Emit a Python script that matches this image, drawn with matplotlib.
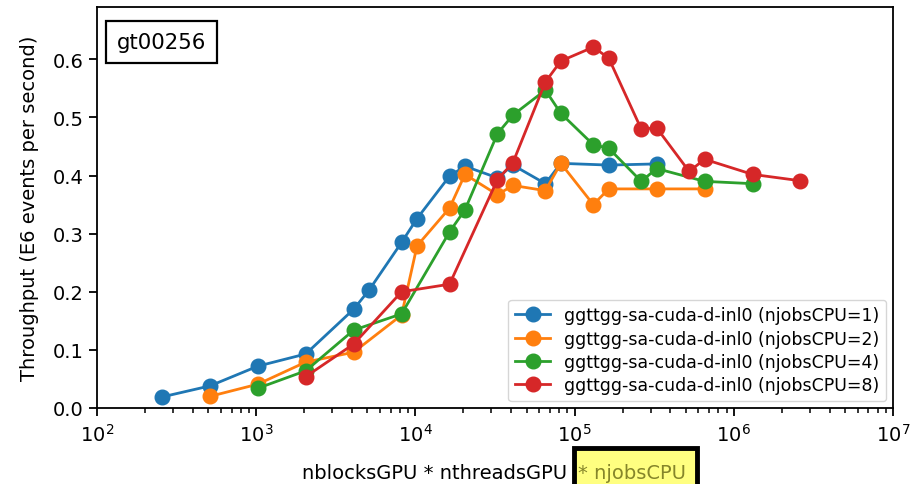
import matplotlib
matplotlib.use("Agg")
import matplotlib.pyplot as plt
from matplotlib.patches import Rectangle

x_j1 = [256, 512, 1024, 2048, 4096, 5120, 8192, 10240, 16384, 20480, 32768, 40960, 65536, 81920, 163840, 327680]
y_j1 = [0.019, 0.038, 0.072, 0.093, 0.170, 0.203, 0.285, 0.326, 0.399, 0.416, 0.396, 0.418, 0.386, 0.421, 0.418, 0.420]

x_j2 = [512, 1024, 2048, 4096, 8192, 10240, 16384, 20480, 32768, 40960, 65536, 81920, 131072, 163840, 327680, 655360]
y_j2 = [0.020, 0.041, 0.079, 0.096, 0.160, 0.279, 0.344, 0.402, 0.367, 0.383, 0.374, 0.421, 0.350, 0.377, 0.377, 0.377]

x_j4 = [1024, 2048, 4096, 8192, 16384, 20480, 32768, 40960, 65536, 81920, 131072, 163840, 262144, 327680, 655360, 1310720]
y_j4 = [0.034, 0.064, 0.134, 0.162, 0.303, 0.341, 0.472, 0.504, 0.547, 0.507, 0.453, 0.447, 0.390, 0.412, 0.390, 0.386]

x_j8 = [2048, 4096, 8192, 16384, 32768, 40960, 65536, 81920, 131072, 163840, 262144, 327680, 524288, 655360, 1310720, 2621440]
y_j8 = [0.054, 0.110, 0.200, 0.213, 0.393, 0.422, 0.561, 0.597, 0.621, 0.602, 0.480, 0.482, 0.407, 0.428, 0.402, 0.391]

labels = ["ggttgg-sa-cuda-d-inl0 (njobsCPU=1)",
          "ggttgg-sa-cuda-d-inl0 (njobsCPU=2)",
          "ggttgg-sa-cuda-d-inl0 (njobsCPU=4)",
          "ggttgg-sa-cuda-d-inl0 (njobsCPU=8)"]
colors = ["#1f77b4", "#ff7f0e", "#2ca02c", "#d62728"]

W, H = 910, 485
fig = plt.figure(figsize=(9.1, 4.85), dpi=100)
ax = fig.add_axes([97/W, 1-409/H, (893-97)/W, (409-8)/H])

for xs, ys, lab, c in zip([x_j1, x_j2, x_j4, x_j8], [y_j1, y_j2, y_j4, y_j8], labels, colors):
    ax.plot(xs, ys, marker='o', color=c, label=lab, linewidth=2.0, markersize=10.5)

ax.set_xscale('log')
ax.set_xlim(1e2, 1e7)
ax.set_ylim(0, 0.69)
ax.set_yticks([0.0, 0.1, 0.2, 0.3, 0.4, 0.5, 0.6])
ax.tick_params(axis='both', labelsize=14, length=6, width=1.3)
ax.tick_params(axis='x', which='minor', length=3.5, width=1.1)
ax.tick_params(axis='x', pad=5)
for s in ax.spines.values():
    s.set_linewidth(1.3)

ax.set_ylabel("Throughput (E6 events per second)", fontsize=14, labelpad=10)

leg = ax.legend(loc='lower right', fontsize=12.5, handlelength=2.0, borderpad=0.4,
                labelspacing=0.3, borderaxespad=0.4)

ax.text(20/796, 1-(33-8)/401, "gt00256", transform=ax.transAxes, fontsize=15.3, va='top', ha='left',
        bbox=dict(boxstyle='square,pad=0.5', facecolor='white', edgecolor='black', linewidth=1.6))

fig.text(573/W, 1-479/H, "nblocksGPU * nthreadsGPU ", ha='right', va='baseline', fontsize=14)
fig.patches.append(Rectangle((574/W, 1-495/H), (697-574)/W, (495-449)/H, transform=fig.transFigure,
                             facecolor='#ffff80', edgecolor='black', linewidth=3.5, zorder=1))
fig.text(578/W, 1-479/H, "* njobsCPU", ha='left', va='baseline', fontsize=14, color='#85852a', zorder=2)

fig.savefig("out.png", dpi=100)
